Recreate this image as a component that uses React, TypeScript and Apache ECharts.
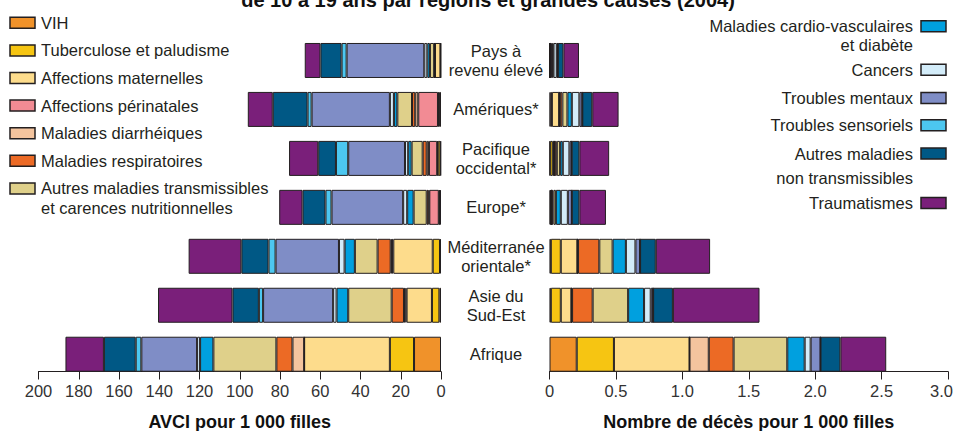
import React, { useEffect, useRef } from "react";
import * as echarts from "echarts";

const regionLabels = [
  "Pays à\nrevenu élevé",
  "Amériques*",
  "Pacifique\noccidental*",
  "Europe*",
  "Méditerranée\norientale*",
  "Asie du\nSud-Est",
  "Afrique",
];

const causes = [
  "VIH",
  "Tuberculose et paludisme",
  "Affections maternelles",
  "Affections périnatales",
  "Maladies diarrhéiques",
  "Maladies respiratoires",
  "Autres maladies transmissibles et carences nutritionnelles",
  "Maladies cardio-vasculaires et diabète",
  "Cancers",
  "Troubles mentaux",
  "Troubles sensoriels",
  "Autres maladies non transmissibles",
  "Traumatismes",
];

const causeColors = [
  "#f0922a",
  "#f6c512",
  "#fddc8c",
  "#f28b94",
  "#f4c49e",
  "#ec6a25",
  "#dfd08a",
  "#00a0df",
  "#d3ecf9",
  "#7f8dc6",
  "#4cc7f0",
  "#005885",
  "#7a1f7a",
];

const leftLegendLabels = [
  "VIH",
  "Tuberculose et paludisme",
  "Affections maternelles",
  "Affections périnatales",
  "Maladies diarrhéiques",
  "Maladies respiratoires",
  "Autres maladies transmissibles\net carences nutritionnelles",
];

const rightLegendLabels = [
  "Maladies cardio-vasculaires\net diabète",
  "Cancers",
  "Troubles mentaux",
  "Troubles sensoriels",
  "Autres maladies\nnon transmissibles",
  "Traumatismes",
];

// AVCI pour 1 000 filles (cause order as in `causes`)
const avciHighIncome = [0.2, 0.1, 2.7, 0, 0.1, 0.3, 2.1, 1.3, 1.5, 38.6, 2.5, 10.5, 7.8];
const avciAmericas = [0.6, 0.5, 0.4, 9.8, 1.5, 1.6, 7.3, 1.7, 2.0, 38.9, 2.0, 17.3, 12.4];
const avciWesternPacific = [0.3, 1.3, 0.3, 4.1, 1.1, 2.0, 5.5, 1.7, 1.6, 28.2, 6.1, 8.8, 14.5];
const avciEurope = [0.5, 0.3, 0.3, 4.7, 0.4, 0.9, 6.5, 3.2, 2.0, 35.6, 3.0, 11.4, 11.6];
const avciEastMed = [0.5, 3.6, 19.6, 0.7, 0.6, 6.5, 11.3, 5.1, 2.8, 31.5, 3.5, 13.5, 26.2];
const avciSouthEastAsia = [0.8, 3.7, 12.6, 0.6, 0.7, 6.1, 21.6, 5.8, 1.7, 34.8, 2.1, 13.1, 37.0];
const avciAfrica = [13.4, 12.0, 42.6, 0, 5.8, 8.0, 31.3, 6.6, 1.5, 27.7, 2.8, 15.8, 19.1];

// Nombre de décès pour 1 000 filles
const deathsHighIncome = [0.002, 0.003, 0.002, 0, 0.002, 0.008, 0.006, 0.007, 0.025, 0.008, 0, 0.042, 0.117];
const deathsAmericas = [0.008, 0.01, 0.055, 0, 0.005, 0.019, 0.038, 0.033, 0.057, 0.022, 0, 0.075, 0.198];
const deathsWesternPacific = [0.005, 0.02, 0.01, 0, 0.005, 0.015, 0.025, 0.02, 0.05, 0.017, 0, 0.058, 0.224];
const deathsEurope = [0.008, 0.004, 0.003, 0, 0.003, 0.012, 0.018, 0.037, 0.053, 0.03, 0, 0.057, 0.2];
const deathsEastMed = [0.01, 0.075, 0.125, 0, 0.005, 0.16, 0.1, 0.1, 0.072, 0.035, 0, 0.118, 0.409];
const deathsSouthEastAsia = [0.01, 0.075, 0.08, 0, 0.005, 0.155, 0.267, 0.12, 0.05, 0.018, 0, 0.149, 0.652];
const deathsAfrica = [0.205, 0.28, 0.569, 0, 0.145, 0.187, 0.404, 0.131, 0.045, 0.074, 0, 0.15, 0.345];

const avciTicks = [0, 20, 40, 60, 80, 100, 120, 140, 160, 180, 200];
const deathTicks = [0, 0.5, 1.0, 1.5, 2.0, 2.5, 3.0];

const avciRows = [avciHighIncome, avciAmericas, avciWesternPacific, avciEurope, avciEastMed, avciSouthEastAsia, avciAfrica];
const deathRows = [deathsHighIncome, deathsAmericas, deathsWesternPacific, deathsEurope, deathsEastMed, deathsSouthEastAsia, deathsAfrica];

const FONT = "'Liberation Sans', Arial, Helvetica, sans-serif";
const TXT = "#231f20";

export default function App() {
  const ref = useRef<HTMLDivElement>(null);

  useEffect(() => {
    if (!ref.current) return;
    const chart = echarts.init(ref.current, undefined, { renderer: "svg" });

    const series: any[] = [];
    causes.forEach((c, i) => {
      series.push({
        name: c,
        type: "bar",
        stack: "avci",
        xAxisIndex: 0,
        yAxisIndex: 0,
        barWidth: 35,
        data: avciRows.map((r) => r[i]),
        itemStyle: { color: causeColors[i], borderColor: TXT, borderWidth: 1 },
        emphasis: { disabled: true },
      });
    });
    causes.forEach((c, i) => {
      series.push({
        name: c,
        type: "bar",
        stack: "deaths",
        xAxisIndex: 1,
        yAxisIndex: 1,
        barWidth: 35,
        data: deathRows.map((r) => r[i]),
        itemStyle: { color: causeColors[i], borderColor: TXT, borderWidth: 1 },
        emphasis: { disabled: true },
      });
    });

    const graphics: any[] = [];
    // title (partially cut off at top, as in the reference)
    graphics.push({
      type: "text",
      x: 488,
      y: 0,
      style: {
        text: "de 10 à 19 ans par régions et grandes causes (2004)",
        font: `bold 20px ${FONT}`,
        fill: "#111",
        align: "center",
        verticalAlign: "middle",
      },
    });
    // left legend
    leftLegendLabels.forEach((lab, i) => {
      const cy = 22.8 + 27.6 * i;
      graphics.push({
        type: "rect",
        shape: { x: 10, y: cy - 5.5, width: 25, height: 11 },
        style: { fill: causeColors[i], stroke: TXT, lineWidth: 1.5 },
      });
      graphics.push({
        type: "text",
        x: 41,
        y: cy - 10,
        style: {
          text: lab,
          font: `16.5px ${FONT}`,
          lineHeight: 20,
          fill: TXT,
          align: "left",
          verticalAlign: "top",
        },
      });
    });
    // right legend
    const rightCenters = [26.3, 69.7, 98, 125.3, 153.5, 203];
    rightLegendLabels.forEach((lab, j) => {
      const i = j + 7;
      const cy = rightCenters[j];
      graphics.push({
        type: "rect",
        shape: { x: 921, y: cy - 5.5, width: 25, height: 11 },
        style: { fill: causeColors[i], stroke: TXT, lineWidth: 1.5 },
      });
      const lines = lab.split("\n");
      lines.forEach((ln, k) => {
        graphics.push({
          type: "text",
          x: 913,
          y: cy + k * (j === 0 ? 18.5 : 24),
          style: {
            text: ln,
            font: `16.5px ${FONT}`,
            fill: TXT,
            align: "right",
            verticalAlign: "middle",
          },
        });
      });
    });

    const axisCommon = {
      type: "value",
      offset: -7.2,
      axisLine: { show: true, lineStyle: { color: TXT, width: 1 } },
      axisTick: { show: true, length: 8, lineStyle: { color: TXT, width: 1 } },
      splitLine: { show: false },
      nameLocation: "middle",
      nameGap: 41,
      nameTextStyle: { fontFamily: FONT, fontWeight: "bold", fontSize: 18, color: "#111" },
    };

    const maxDeath = deathTicks[deathTicks.length - 1];

    chart.setOption({
      animation: false,
      textStyle: { fontFamily: FONT },
      grid: [
        { left: 38.5, top: 36, width: 402.5, height: 342.7, outerBoundsMode: "none", containLabel: false },
        { left: 549.5, top: 36, width: 398.5, height: 342.7, outerBoundsMode: "none", containLabel: false },
      ],
      xAxis: [
        {
          ...axisCommon,
          gridIndex: 0,
          min: avciTicks[0],
          max: avciTicks[avciTicks.length - 1],
          interval: 20,
          inverse: true,
          name: "AVCI pour 1 000 filles",
          axisLabel: { fontFamily: FONT, fontSize: 16.5, color: "#333", margin: 11 },
        },
        {
          ...axisCommon,
          gridIndex: 1,
          min: deathTicks[0],
          max: maxDeath,
          interval: 0.5,
          name: "Nombre de décès pour 1 000 filles",
          axisLabel: {
            fontFamily: FONT,
            fontSize: 16.5,
            color: "#333",
            margin: 11,
            formatter: (v: number) =>
              v === 0 ? "0" : v >= maxDeath ? `{edge|${v.toFixed(1)}}` : v.toFixed(1),
            rich: {
              edge: { fontFamily: FONT, fontSize: 16.5, color: "#333", padding: [0, 13, 0, 0] },
            },
          },
        },
      ],
      yAxis: [
        {
          type: "category",
          gridIndex: 0,
          data: regionLabels,
          inverse: true,
          position: "right",
          axisLine: { show: false },
          axisTick: { show: false },
          axisLabel: {
            fontFamily: FONT,
            fontSize: 16.5,
            color: TXT,
            align: "center",
            margin: 55,
            lineHeight: 19,
          },
        },
        {
          type: "category",
          gridIndex: 1,
          data: regionLabels,
          inverse: true,
          axisLine: { show: false },
          axisTick: { show: false },
          axisLabel: { show: false },
        },
      ],
      series,
      graphic: graphics,
    });

    return () => chart.dispose();
  }, []);

  return (
    <div
      ref={ref}
      style={{ position: "absolute", left: 0, top: 0, width: 954, height: 431, background: "#fff" }}
    />
  );
}
